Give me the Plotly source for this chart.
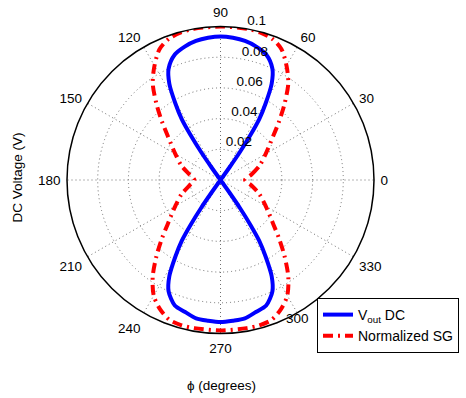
import plotly.graph_objects as go

# ---- data ----
# Vout DC (blue): angle in degrees, radius in volts
blue_theta = [0, 53, 54.5, 55.2, 56.3, 57.5, 59.5, 62, 65, 70, 75, 80, 85, 90,
              95, 100, 105, 110, 115, 118, 120.5, 122.5, 123.7, 124.8, 125.5, 127,
              180, 233, 234.5, 235.2, 236.3, 237.5, 239.5, 242, 245, 250, 255, 260, 265, 270,
              275, 280, 285, 290, 295, 298, 300.5, 302.5, 303.7, 304.8, 305.5, 307, 360]
blue_r = [0, 0, 0.010, 0.022, 0.035, 0.047, 0.058, 0.071, 0.080, 0.087, 0.090, 0.092, 0.093, 0.0935,
          0.093, 0.092, 0.090, 0.087, 0.080, 0.071, 0.058, 0.047, 0.035, 0.022, 0.010, 0,
          0, 0, 0.010, 0.022, 0.035, 0.047, 0.058, 0.071, 0.080, 0.087, 0.089, 0.0915, 0.092, 0.0925,
          0.092, 0.0915, 0.089, 0.087, 0.080, 0.071, 0.058, 0.047, 0.035, 0.022, 0.010, 0, 0]

# Normalized SG (red)
red_theta = [0, 10, 20, 30, 40, 45, 50, 55, 60, 65, 70, 75, 80, 90,
             100, 105, 110, 115, 120, 125, 130, 135, 140, 150, 160, 170, 180,
             190, 200, 210, 220, 225, 230, 235, 240, 245, 250, 255, 260, 270,
             280, 285, 290, 295, 300, 305, 310, 315, 320, 330, 340, 350, 360]
red_r = [0.016, 0.0205, 0.027, 0.034, 0.045, 0.054, 0.065, 0.077, 0.086, 0.094, 0.098, 0.0995, 0.100, 0.100,
         0.100, 0.0995, 0.098, 0.094, 0.086, 0.077, 0.065, 0.054, 0.045, 0.034, 0.027, 0.0205, 0.017,
         0.0205, 0.027, 0.034, 0.045, 0.054, 0.065, 0.077, 0.087, 0.093, 0.097, 0.098, 0.098, 0.098,
         0.098, 0.098, 0.097, 0.093, 0.087, 0.077, 0.065, 0.054, 0.045, 0.034, 0.027, 0.0205, 0.016]

angle_ticks = [0, 30, 60, 90, 120, 150, 180, 210, 240, 270, 300, 330]
angle_labels = [str(a) for a in angle_ticks]
radial_ticks = [0.02, 0.04, 0.06, 0.08, 0.1]
radial_labels = ["0.02", "0.04", "0.06", "0.08", "0.1"]

# label placement (style)
RADIAL_LABEL_ANGLE = 80          # radial labels sit along the 80 deg spoke
INNER_LABEL_ANGLES = [300]       # angle labels drawn tucked in (left of the legend)

axis_label_text = ["" if a in INNER_LABEL_ANGLES else t for a, t in zip(angle_ticks, angle_labels)]
inner_label_text = [t for a, t in zip(angle_ticks, angle_labels) if a in INNER_LABEL_ANGLES]

FONT = "Liberation Sans, Arial, sans-serif"
GRID = "#6e6e6e"

fig = go.Figure()
fig.add_trace(go.Scatterpolar(
    r=blue_r, theta=blue_theta, mode="lines", name="V<sub>out</sub> DC",
    line=dict(color="#0000ff", width=4, shape="spline", smoothing=0.8),
))
fig.add_trace(go.Scatterpolar(
    r=red_r, theta=red_theta, mode="lines", name="Normalized SG",
    line=dict(color="#ff0000", width=4, dash="10px,5px,2px,5px", shape="spline", smoothing=0.8),
))
# radial tick labels (placed by the polar scale at each ring value)
fig.add_trace(go.Scatterpolar(
    r=radial_ticks, theta=[RADIAL_LABEL_ANGLE] * len(radial_ticks), mode="text",
    text=radial_labels, textposition="top right", cliponaxis=False,
    textfont=dict(family=FONT, size=13.5, color="black"),
    showlegend=False, hoverinfo="skip",
))
# the 300 deg label, placed just outside the outer ring
fig.add_trace(go.Scatterpolar(
    r=[radial_ticks[-1]] * len(INNER_LABEL_ANGLES), theta=INNER_LABEL_ANGLES, mode="text",
    text=inner_label_text, textposition="bottom center", cliponaxis=False,
    textfont=dict(family=FONT, size=13.5, color="black"),
    showlegend=False, hoverinfo="skip",
))

fig.update_layout(
    width=466, height=398,
    margin=dict(l=0, r=0, t=0, b=0),
    paper_bgcolor="white",
    font=dict(family=FONT, size=13.5, color="black"),
    polar=dict(
        domain=dict(x=[67 / 466, 374 / 466], y=[1 - 333.5 / 398, 1 - 26.5 / 398]),
        bgcolor="white",
        angularaxis=dict(
            tickmode="array", tickvals=angle_ticks, ticktext=axis_label_text,
            direction="counterclockwise", rotation=0,
            showline=True, linecolor="black", linewidth=1.5,
            ticks="outside", ticklen=3, tickcolor="rgba(0,0,0,0)",
            gridcolor=GRID, griddash="1px,3px", gridwidth=1,
            tickfont=dict(size=13.5, color="black"),
        ),
        radialaxis=dict(
            range=[0, 0.1], tickmode="array", tickvals=radial_ticks, ticktext=radial_labels,
            angle=RADIAL_LABEL_ANGLE, showline=False, ticks="", showticklabels=False,
            gridcolor=GRID, griddash="1px,3px", gridwidth=1,
        ),
    ),
    legend=dict(
        x=317 / 466, y=1 - 298 / 398, xanchor="left", yanchor="top",
        bgcolor="white", bordercolor="black", borderwidth=1,
        font=dict(size=14, color="black"),
    ),
    annotations=[
        dict(text="DC Voltage (V)", x=16.5 / 466, y=1 - 178 / 398, xref="paper", yref="paper",
             xanchor="center", yanchor="middle",
             showarrow=False, textangle=-90, font=dict(size=13.5)),
        dict(text="ϕ (degrees)", x=221 / 466, y=1 - 385 / 398, xref="paper", yref="paper",
             xanchor="center", yanchor="middle",
             showarrow=False, font=dict(size=13.5)),
    ],
)

fig.write_html("out.html")
